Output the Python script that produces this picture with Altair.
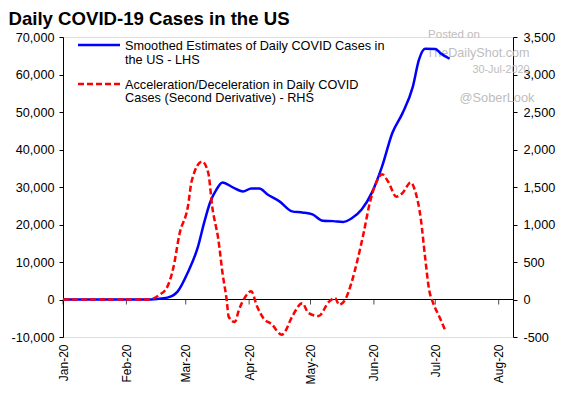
import altair as alt
import pandas as pd

# ---------------- data ----------------
blue_dates = ["2020-01-01", "2020-02-10", "2020-02-16", "2020-02-21", "2020-02-26",
              "2020-03-02", "2020-03-07", "2020-03-10", "2020-03-13", "2020-03-16",
              "2020-03-19", "2020-03-24", "2020-03-29", "2020-04-02", "2020-04-06",
              "2020-04-10", "2020-04-16", "2020-04-22", "2020-04-27", "2020-05-02",
              "2020-05-07", "2020-05-12", "2020-05-17", "2020-05-21", "2020-05-26",
              "2020-05-31", "2020-06-05", "2020-06-10", "2020-06-15", "2020-06-20",
              "2020-06-23", "2020-06-26", "2020-07-01", "2020-07-04", "2020-07-08"]
blue_values = [0, 0, 150, 500, 2100,
               7200, 14100, 20500, 26000, 29300,
               31200, 29900, 28800, 29600, 29600,
               28000, 26100, 23500, 23200, 22700,
               21000, 20900, 20700, 21600, 24000,
               28500, 35500, 44400, 49700, 56700,
               63900, 66900, 66800, 65500, 64200]

red_dates = ["2020-01-01", "2020-02-12", "2020-02-17", "2020-02-21", "2020-02-24",
             "2020-02-27", "2020-03-02", "2020-03-04", "2020-03-09", "2020-03-12",
             "2020-03-14", "2020-03-17", "2020-03-19", "2020-03-21", "2020-03-22",
             "2020-03-25", "2020-03-27", "2020-03-30", "2020-04-02", "2020-04-05",
             "2020-04-08", "2020-04-12", "2020-04-17", "2020-04-18", "2020-04-22",
             "2020-04-27", "2020-04-30", "2020-05-05", "2020-05-10", "2020-05-13",
             "2020-05-15", "2020-05-18", "2020-05-21", "2020-05-24", "2020-05-27",
             "2020-05-30", "2020-06-02", "2020-06-05", "2020-06-08", "2020-06-12",
             "2020-06-15", "2020-06-19", "2020-06-21", "2020-06-24", "2020-06-26",
             "2020-06-28", "2020-06-30", "2020-07-03", "2020-07-06"]
red_values = [0, 0, 60, 170, 430,
              880, 1230, 1590, 1840, 1690,
              1230, 790, 350, 0, -230,
              -300, -140, 30, 110, -100,
              -250, -330, -470, -450, -230,
              -50, -180, -220, -30, 20,
              -70, 0, 220, 530, 890,
              1290, 1550, 1670, 1570, 1370,
              1420, 1560, 1460, 1060, 570,
              130, -50, -230, -420]

month_ticks = ["2020-01-01", "2020-02-01", "2020-03-01", "2020-04-01",
               "2020-05-01", "2020-06-01", "2020-07-01", "2020-08-01"]
lhs_ticks = [-10000, 0, 10000, 20000, 30000, 40000, 50000, 60000, 70000]
rhs_ticks = [-500, 0, 500, 1000, 1500, 2000, 2500, 3000, 3500]

title_text = "Daily COVID-19 Cases in the US"
legend_blue = ["Smoothed Estimates of Daily COVID Cases in", "the US - LHS"]
legend_red = ["Acceleration/Deceleration in Daily COVID", "Cases (Second Derivative) - RHS"]

# ---------------- build ----------------
blue_df = pd.DataFrame({"date": blue_dates, "value": blue_values})
red_df = pd.DataFrame({"date": red_dates, "value": red_values})
tick_df = pd.DataFrame({"date": month_ticks})

FONT = "Liberation Sans"
FS = 12.7
W, H = 450, 300
NUM_EXPR = "replace(format(datum.value, ',d'), '\u2212', '-')"

x_scale = alt.Scale(type="utc",
                    domain=[alt.DateTime(year=2020, month=1, date=1, utc=True),
                            alt.DateTime(year=2020, month=8, date=8, utc=True)])
month_vals = [alt.DateTime(year=2020, month=m, date=1, utc=True) for m in range(1, 9)]

x_axis = alt.Axis(values=month_vals, format="%b-%y", labelAngle=-90,
                  domain=False, ticks=False, tickSize=0, grid=False,
                  labelOverlap=False,
                  labelPadding=7, labelFont=FONT, labelFontSize=12,
                  labelColor="black")
x_enc = alt.X("date:T", scale=x_scale, title=None, axis=x_axis)

lhs_scale = alt.Scale(domain=[-10000, 70000], nice=False, zero=False)
rhs_scale = alt.Scale(domain=[-500, 3500], nice=False, zero=False)

lhs_axis = alt.Axis(orient="left", values=lhs_ticks, labelExpr=NUM_EXPR, grid=False,
                    labelOverlap=False, tickCount=9,
                    domain=True, domainColor="black", domainWidth=1,
                    ticks=True, tickColor="black", tickSize=4, tickWidth=1,
                    labelPadding=5, labelFont=FONT, labelFontSize=FS,
                    labelColor="black")
rhs_axis = alt.Axis(orient="right", values=rhs_ticks, labelExpr=NUM_EXPR, grid=False,
                    labelOverlap=False, tickCount=9,
                    domain=True, domainColor="black", domainWidth=1,
                    ticks=True, tickColor="black", tickSize=4, tickWidth=1,
                    labelPadding=6, labelFont=FONT, labelFontSize=FS,
                    labelColor="black", labelAlign="left")

one = alt.Data(values=[{}])


def txt(text, x, y, size=FS, color="black", align="left", baseline="alphabetic",
        weight="normal", line_height=None):
    kw = dict(text=text, font=FONT, fontSize=size, color=color, align=align,
              baseline=baseline, fontWeight=weight)
    if line_height is not None:
        kw["lineHeight"] = line_height
    return alt.Chart(one).mark_text(**kw).encode(x=alt.value(x), y=alt.value(y))


# watermark (behind the lines)
wm_color = "#bdbdbd"
wm = [
    txt("Posted on", 391, -2, size=11.5, color=wm_color, align="center", baseline="middle"),
    txt("TheDailyShot.com", 415, 16, size=12.6, color=wm_color, align="center", baseline="middle"),
    txt("30-Jul-2020", 438, 33, size=10.8, color=wm_color, align="center", baseline="middle"),
    txt("@SoberLook", 434, 61, size=12.8, color=wm_color, align="center", baseline="middle"),
]

zero_rule = alt.Chart(one).mark_rule(color="black", strokeWidth=1).encode(
    y=alt.datum(0, scale=lhs_scale, axis=lhs_axis))

month_marks = alt.Chart(tick_df).mark_tick(orient="vertical", size=5, thickness=1,
                                           color="black", yOffset=2.5).encode(
    x=alt.X("date:T", scale=x_scale, title=None, axis=x_axis),
    y=alt.datum(0, scale=lhs_scale, axis=lhs_axis))

blue_line = alt.Chart(blue_df).mark_line(color="#0000FF", strokeWidth=2.5,
                                         interpolate="monotone").encode(
    x=x_enc,
    y=alt.Y("value:Q", scale=lhs_scale, title=None, axis=lhs_axis))

lhs = alt.layer(*wm, zero_rule, month_marks, blue_line)

red_line = alt.Chart(red_df).mark_line(color="#FF0000", strokeWidth=2.5,
                                       strokeDash=[6, 3], interpolate="monotone").encode(
    x=alt.X("date:T", scale=x_scale, title=None, axis=x_axis),
    y=alt.Y("value:Q", scale=rhs_scale, title=None, axis=rhs_axis))

# legend (hand drawn, inside plot)
leg_blue_line = alt.Chart(one).mark_rule(color="#0000FF", strokeWidth=2.5).encode(
    x=alt.value(15), x2=alt.value(57), y=alt.value(8))
leg_red_line = alt.Chart(one).mark_rule(color="#FF0000", strokeWidth=2.5,
                                        strokeDash=[6, 3]).encode(
    x=alt.value(15), x2=alt.value(57), y=alt.value(47))
leg_blue_txt = txt(legend_blue, 62, 12.5, line_height=14)
leg_red_txt = txt(legend_red, 62, 51.5, line_height=13.5)

title = txt(title_text, -54.5, -12, size=18.6, weight="bold")

chart = alt.layer(lhs, red_line, leg_blue_line, leg_red_line, leg_blue_txt,
                  leg_red_txt, title).resolve_scale(y="independent").properties(
    width=W, height=H,
    autosize=alt.AutoSizeParams(type="none"),
    padding={"left": 55, "top": 29, "right": 43, "bottom": 48},
).configure_view(stroke=None).configure(background="white")

chart.save("out.html", embed_options={"renderer": "svg", "actions": False})
